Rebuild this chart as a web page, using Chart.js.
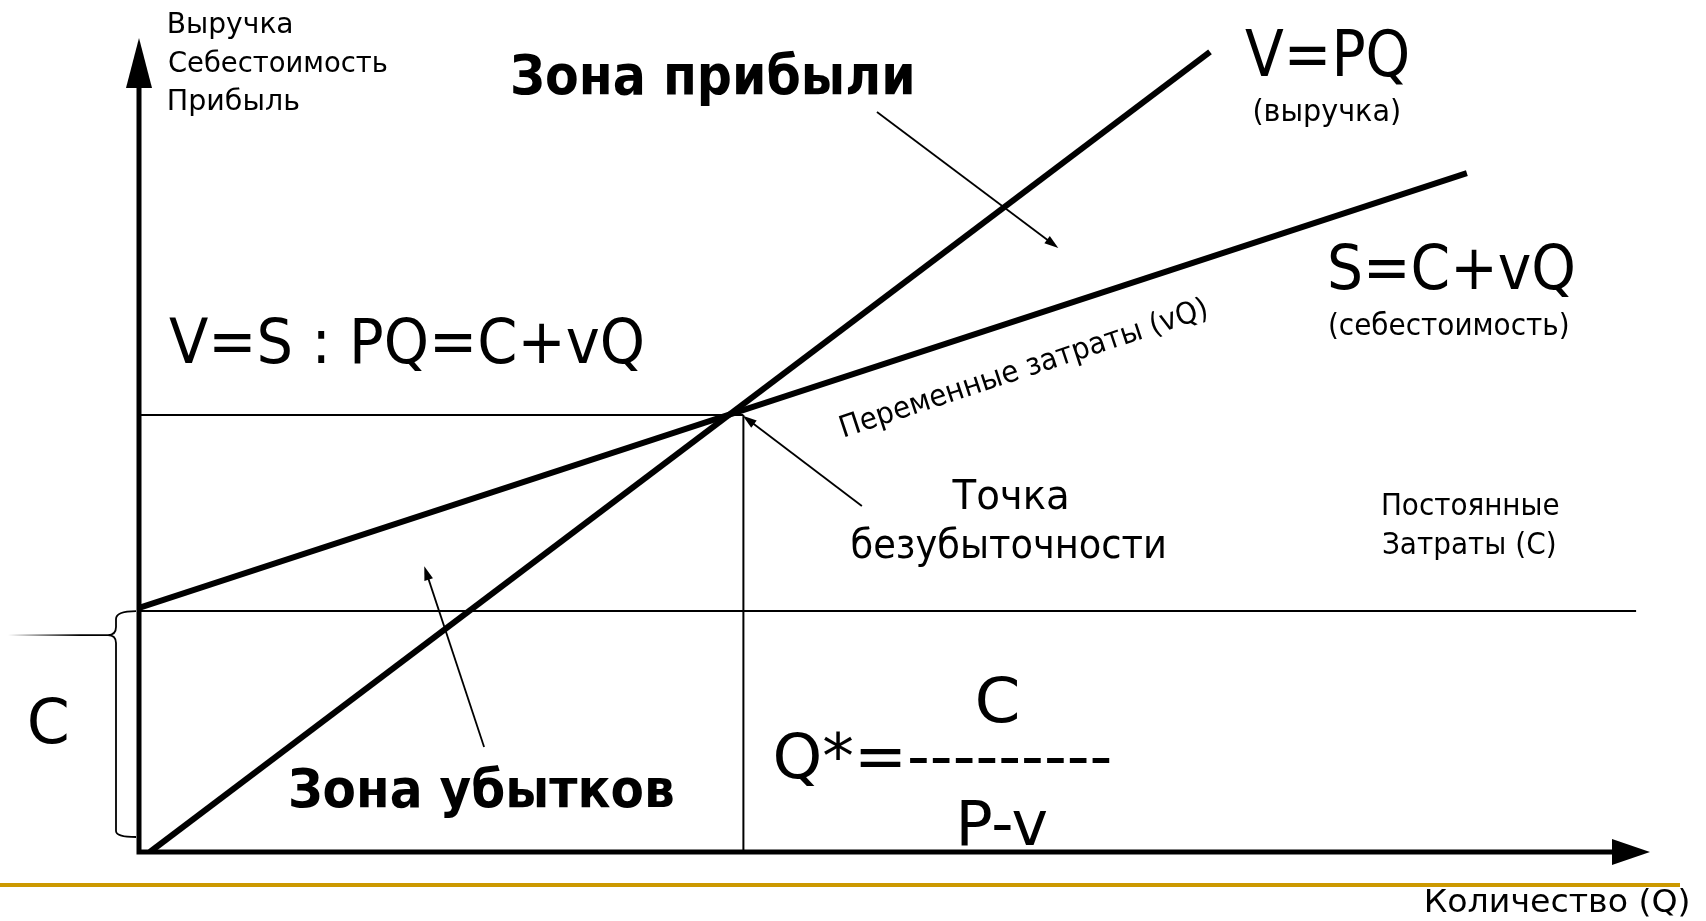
<!DOCTYPE html>
<html>
<head>
<meta charset="utf-8">
<script src="https://cdn.jsdelivr.net/npm/chart.js@4"></script>
<style>
  html, body { margin: 0; padding: 0; background: #fff; }
  #wrap { width: 1706px; height: 921px; }
</style>
</head>
<body>
<div id="wrap"><canvas id="breakEven" width="1706" height="921"></canvas></div>
<script>
// values (Q on x, money on y, y scale 0..100)
const revenueQ = [0.18, 17.72];
const revenueV = [0, 98.3];
const costQ = [0, 21.97];
const costS = [30.0, 83.4];
const fixedCostQ = [0, 24.77];
const fixedCostC = [29.6, 29.6];
const breakEvenQ = 10;
const breakEvenLevel = 53.7;
const xMax = 25;
const yMax = 100;

// annotation arrows: [tailQ, tailY, headQ, headY]
const profitArrow = [12.21, 90.9, 15.21, 74.2];
const pointArrow = [11.96, 42.5, 9.99, 53.6];
const lossArrow = [5.71, 12.9, 4.72, 35.1];

const FONT = '"DejaVu Sans Condensed", "DejaVu Sans", sans-serif';

function pts(xs, ys) {
  return xs.map((x, i) => ({ x: x, y: ys[i] }));
}

function fitText(ctx, text, x, y, size, width, opts) {
  opts = opts || {};
  ctx.save();
  ctx.font = (opts.bold ? 'bold ' : '') + 'condensed ' + size + 'px ' + FONT;
  ctx.fillStyle = '#000';
  ctx.textBaseline = 'alphabetic';
  ctx.textAlign = 'left';
  const m = ctx.measureText(text);
  const ink = m.actualBoundingBoxLeft + m.actualBoundingBoxRight;
  const sx = width ? width / ink : 1;
  ctx.translate(x, y);
  if (opts.angle) ctx.rotate(opts.angle * Math.PI / 180);
  let left = 0;
  if (opts.align === 'center') left = -(width || ink) / 2;
  ctx.scale(sx, 1);
  ctx.fillText(text, left / sx + m.actualBoundingBoxLeft, 0);
  ctx.restore();
}

function arrowHead(ctx, x1, y1, x2, y2, len, half) {
  const a = Math.atan2(y2 - y1, x2 - x1);
  ctx.beginPath();
  ctx.moveTo(x2, y2);
  ctx.lineTo(x2 - len * Math.cos(a) + half * Math.sin(a), y2 - len * Math.sin(a) - half * Math.cos(a));
  ctx.lineTo(x2 - len * Math.cos(a) - half * Math.sin(a), y2 - len * Math.sin(a) + half * Math.cos(a));
  ctx.closePath();
  ctx.fill();
}

const decorations = {
  id: 'decorations',
  afterDatasetsDraw(chart) {
    const ctx = chart.ctx;
    const xs = chart.scales.x, ys = chart.scales.y;
    const X = v => xs.getPixelForValue(v);
    const Y = v => ys.getPixelForValue(v);
    const left = X(0), bottom = Y(0);
    const right = chart.chartArea.right, top = chart.chartArea.top;

    ctx.save();
    ctx.fillStyle = '#000';
    ctx.strokeStyle = '#000';

    // axes with arrows
    ctx.lineWidth = 5;
    ctx.beginPath();
    ctx.moveTo(left, bottom + 2.5);
    ctx.lineTo(left, top + 40);
    ctx.moveTo(left - 2.5, bottom);
    ctx.lineTo(right - 30, bottom);
    ctx.stroke();
    arrowHead(ctx, left, bottom, left, top, 50, 13);
    arrowHead(ctx, left, bottom, right, bottom, 38, 13);

    // brace for C
    const bTop = Y(fixedCostC[0]), bBot = bottom - 15, bx = left - 23;
    const bMid = bTop + 24;
    ctx.lineWidth = 1.8;
    ctx.beginPath();
    ctx.moveTo(left - 3, bTop);
    ctx.quadraticCurveTo(bx, bTop, bx, bTop + 8);
    ctx.lineTo(bx, bMid - 8);
    ctx.quadraticCurveTo(bx, bMid, bx - 8, bMid);
    ctx.quadraticCurveTo(bx, bMid, bx, bMid + 8);
    ctx.lineTo(bx, bBot - 6);
    ctx.quadraticCurveTo(bx, bBot, left - 3, bBot);
    ctx.stroke();
    const grad = ctx.createLinearGradient(8, 0, 80, 0);
    grad.addColorStop(0, 'rgba(0,0,0,0)');
    grad.addColorStop(1, 'rgba(0,0,0,1)');
    ctx.strokeStyle = grad;
    ctx.beginPath();
    ctx.moveTo(8, bMid);
    ctx.lineTo(bx - 8, bMid);
    ctx.stroke();
    ctx.strokeStyle = '#000';

    // pointer arrows
    ctx.lineWidth = 1.8;
    [profitArrow, pointArrow, lossArrow].forEach(a => {
      const x1 = X(a[0]), y1 = Y(a[1]), x2 = X(a[2]), y2 = Y(a[3]);
      const ang = Math.atan2(y2 - y1, x2 - x1);
      ctx.beginPath();
      ctx.moveTo(x1, y1);
      ctx.lineTo(x2 - 8 * Math.cos(ang), y2 - 8 * Math.sin(ang));
      ctx.stroke();
      arrowHead(ctx, x1, y1, x2, y2, 14, 4.5);
    });

    // gold rule under the chart
    ctx.fillStyle = '#CC9900';
    ctx.fillRect(0, 883, 1680, 4);
    ctx.fillStyle = '#000';

    // texts
    fitText(ctx, 'Выручка', 169, 33, 28, 123);
    fitText(ctx, 'Себестоимость', 169, 72, 28, 218);
    fitText(ctx, 'Прибыль', 169, 110, 28, 130);
    fitText(ctx, 'Зона прибыли', 513, 94, 55, 399, { bold: true });
    fitText(ctx, 'V=PQ', 1245, 76, 64, 163);
    fitText(ctx, '(выручка)', 1327, 121, 30, 145, { align: 'center' });
    fitText(ctx, 'S=C+vQ', 1330, 289, 62, 243);
    fitText(ctx, '(себестоимость)', 1449, 335, 30, 238, { align: 'center' });
    fitText(ctx, 'V=S : PQ=C+vQ', 169, 363, 62, 473);
    fitText(ctx, 'Переменные затраты (vQ)', 845, 437, 30, 383, { angle: -18.3 });
    fitText(ctx, 'Точка', 1009, 509, 40, 115, { align: 'center' });
    fitText(ctx, 'безубыточности', 1008, 558, 40, 313, { align: 'center' });
    fitText(ctx, 'Постоянные', 1383, 515, 30, 176);
    fitText(ctx, 'Затраты (С)', 1383, 554, 30, 172);
    fitText(ctx, 'C', 30, 743, 63, 37);
    fitText(ctx, 'C', 978, 722, 62, 39);
    fitText(ctx, 'Q*=---------', 776, 778, 62, 334);
    fitText(ctx, 'P-v', 961, 845, 62, 86);
    fitText(ctx, 'Зона убытков', 291, 807, 54, 382, { bold: true });
    fitText(ctx, 'Количество (Q)', 1426, 912, 32, 262);
    ctx.restore();
  }
};

const ctx = document.getElementById('breakEven').getContext('2d');
new Chart(ctx, {
  type: 'scatter',
  data: {
    datasets: [
      { label: 'Постоянные затраты', data: pts(fixedCostQ, fixedCostC), showLine: true, borderColor: '#000', borderWidth: 2, pointRadius: 0 },
      { label: 'Уровень безубыточности', data: pts([0, breakEvenQ], [breakEvenLevel, breakEvenLevel]), showLine: true, borderColor: '#000', borderWidth: 2, pointRadius: 0 },
      { label: 'Q*', data: pts([breakEvenQ, breakEvenQ], [breakEvenLevel, 0]), showLine: true, borderColor: '#000', borderWidth: 2, pointRadius: 0 },
      { label: 'Выручка', data: pts(revenueQ, revenueV), showLine: true, borderColor: '#000', borderWidth: 6, pointRadius: 0 },
      { label: 'Себестоимость', data: pts(costQ, costS), showLine: true, borderColor: '#000', borderWidth: 6, pointRadius: 0 }
    ]
  },
  options: {
    responsive: false,
    animation: false,
    layout: { padding: { left: 139, right: 56, top: 38, bottom: 69 } },
    scales: {
      x: { type: 'linear', min: 0, max: xMax, display: false },
      y: { type: 'linear', min: 0, max: yMax, display: false }
    },
    plugins: {
      legend: { display: false },
      tooltip: { enabled: false }
    }
  },
  plugins: [decorations]
});
</script>
</body>
</html>
